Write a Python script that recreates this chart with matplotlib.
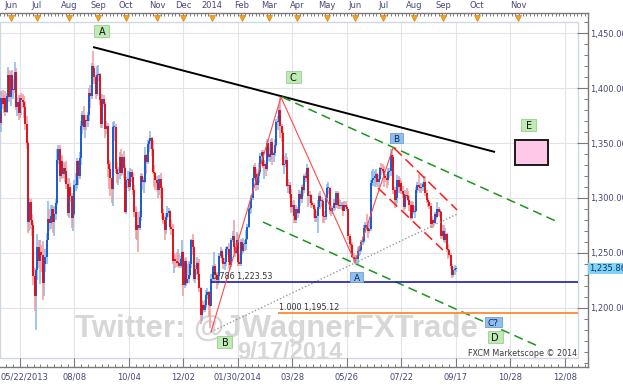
import numpy as np
import matplotlib
matplotlib.use("Agg")
import matplotlib.pyplot as plt
from matplotlib.patches import Rectangle
from matplotlib.transforms import blended_transform_factory

# ---------------- data (daily XAU/USD bars) ----------------
opens = [
 1377,1368,1391,
 1386,1391,1378,1393,1412, 1392,1412,1398,1398,1415, 1383,1387,1377,1391,1389,
 1387,1383,1367,1350,1278, 1296,1280,1275,1229,1211, 1234,1255,1243,1251,1248,
 1223,1240,1246,1262,1281, 1277,1284,1290,1278,1285, 1295,1335,1345,1320,1334,
 1322,1327,1325,1313,1286, 1310,1302,1282,1285,1312, 1312,1334,1320,1336,1366,
 1376,1365,1371,1370,1376, 1396,1393,1420,1418,1410, 1395,1412,1413,1389,1367,
 1390,1386,1363,1366,1331, 1326,1318,1308,1365,1365, 1326,1322,1323,1337,1323,
 1337,1327,1287,1316,1317, 1310,1324,1319,1307,1287, 1271,1275,1273,1283,1320,
 1315,1315,1339,1333,1349, 1352,1355,1345,1324,1323, 1316,1314,1307,1317,1309,
 1286,1280,1271,1283,1286, 1288,1274,1272,1243,1244, 1243,1241,1241,1238,1244,
 1251,1221,1243,1223,1226, 1230,1240,1262,1255,1226, 1235,1241,1231,1218,1193,
 1203,1198,1203,1212, 1214,1203,1202,1226,
 1237,1238,1230,1225,1229, 1247,1252,1245,1240,1242, 1254,1254,1242,1239,1262,
 1265,1255,1250,1262,1242, 1240,1260,1252,1258,1258, 1263,1274,1290,1291,1300,
 1318,1328,1322,1312,1320, 1324,1338,1342,1329,1331, 1326,1350,1337,1340,1351,
 1339,1341,1348,1369,1370, 1380,1366,1359,1330,1331, 1335,1311,1312,1304,1292,
 1294,1284,1280,1290,1286, 1304,1299,1310,1307,1320, 1318,1327,1302,1303,1295,
 1294,1290,1282,1284,1292, 1302,1297,1297,1284,1283, 1300,1309,1309,1289,1288,
 1291,1295,1294,1305,1294, 1293,1293,1294,1288,1294, 1292,1290,1265,1258,1257,
 1246,1244,1244,1244,1252, 1252,1253,1260,1261,1273, 1275,1273,1270,1272,1314,
 1316,1318,1320,1322,1315, 1317,1327,1326,1325,1320, 1318,1316,1324,1325,1339,
 1337,1307,1298,1300,1316, 1310,1314,1306,1304,1292, 1303,1302,1298,1294,1282,
 1294,1287,1288,1307,1312, 1310,1309,1310,1313,1315, 1305,1298,1296,1293,1276,
 1280,1277,1285,1283,1290, 1287,1287,1265,1270,1262, 1267,1254,1253,1248,1238,
 1230,1234,1235]
highs = [
 1396,1397,1398,
 1394,1397,1396,1419,1417, 1416,1417,1408,1424,1418, 1392,1394,1394,1396,1395,
 1393,1388,1375,1352,1300, 1299,1285,1278,1236,1235, 1267,1262,1262,1257,1261,
 1245,1254,1268,1297,1290, 1294,1294,1292,1293,1299, 1345,1348,1348,1337,1339,
 1333,1331,1334,1318,1318, 1314,1305,1290,1316,1323, 1336,1335,1342,1370,1379,
 1384,1374,1376,1378,1400, 1403,1423,1434,1420,1412, 1420,1421,1414,1395,1395,
 1394,1387,1370,1368,1335, 1333,1318,1369,1370,1367, 1333,1328,1342,1345,1340,
 1343,1330,1319,1325,1318, 1327,1326,1323,1312,1293, 1282,1287,1288,1323,1322,
 1319,1346,1340,1353,1354, 1361,1356,1353,1330,1324, 1320,1316,1321,1323,1311,
 1290,1284,1286,1293,1291, 1289,1280,1276,1250,1249, 1251,1254,1250,1247,1262,
 1252,1245,1246,1240,1243, 1242,1263,1267,1256,1239, 1246,1243,1244,1219,1207,
 1206,1207,1216,1218, 1215,1208,1231,1239,
 1251,1240,1233,1232,1250, 1255,1254,1248,1245,1255, 1256,1259,1245,1264,1270,
 1280,1259,1269,1267,1249, 1263,1262,1264,1262,1271, 1276,1294,1295,1303,1318,
 1330,1332,1326,1323,1332, 1341,1344,1344,1335,1333, 1354,1353,1346,1354,1355,
 1342,1354,1372,1375,1385, 1392,1367,1361,1338,1341, 1337,1317,1315,1308,1297,
 1298,1289,1294,1292,1307, 1306,1312,1313,1322,1324, 1331,1328,1306,1304,1297,
 1295,1292,1288,1298,1305, 1306,1301,1299,1288,1303, 1313,1315,1310,1294,1293,
 1299,1298,1306,1306,1299, 1298,1296,1296,1297,1297, 1294,1290,1267,1263,1260,
 1250,1248,1248,1255,1256, 1257,1262,1265,1275,1278, 1285,1276,1279,1316,1325,
 1326,1325,1326,1323,1321, 1328,1332,1331,1329,1322, 1322,1327,1327,1345,1342,
 1339,1310,1302,1321,1320, 1318,1316,1311,1305,1307, 1309,1306,1303,1297,1297,
 1296,1293,1310,1315,1322, 1313,1314,1315,1320,1320, 1307,1300,1297,1295,1284,
 1281,1287,1287,1296,1292, 1290,1288,1275,1275,1273, 1268,1258,1254,1250,1240,
 1237,1239,1238]
lows = [
 1365,1360,1381,
 1377,1375,1377,1390,1387, 1384,1394,1390,1396,1380, 1375,1371,1373,1376,1382,
 1373,1362,1345,1268,1270, 1272,1265,1221,1197,1180, 1225,1236,1222,1233,1207,
 1211,1233,1240,1262,1270, 1272,1276,1268,1265,1280, 1294,1331,1315,1318,1317,
 1318,1315,1308,1284,1282, 1296,1273,1270,1284,1306, 1308,1312,1317,1330,1358,
 1362,1355,1362,1365,1370, 1382,1390,1407,1404,1390, 1393,1407,1385,1364,1364,
 1383,1355,1358,1319,1308, 1302,1295,1293,1352,1323, 1314,1312,1317,1320,1321,
 1318,1286,1285,1309,1306, 1307,1315,1303,1283,1263, 1262,1251,1271,1279,1307,
 1305,1314,1322,1331,1342, 1345,1338,1322,1310,1307, 1306,1300,1303,1300,1281,
 1276,1262,1267,1280,1283, 1271,1266,1240,1232,1236, 1237,1240,1236,1236,1240,
 1211,1218,1220,1222,1223, 1228,1236,1248,1224,1223, 1230,1225,1214,1185,1188,
 1195,1196,1200,1208, 1192,1182,1202,1223,
 1234,1224,1217,1221,1224, 1245,1241,1235,1234,1238, 1248,1236,1234,1237,1260,
 1250,1246,1249,1238,1238, 1238,1248,1250,1252,1253, 1262,1273,1285,1286,1298,
 1316,1317,1306,1307,1314, 1322,1331,1327,1317,1320, 1325,1334,1333,1335,1330,
 1333,1338,1346,1362,1368, 1355,1351,1329,1322,1328, 1310,1305,1300,1286,1287,
 1277,1277,1277,1282,1285, 1293,1295,1302,1305,1315, 1316,1292,1295,1291,1292,
 1282,1278,1278,1268,1290, 1290,1292,1277,1277,1280, 1297,1304,1285,1284,1285,
 1288,1289,1291,1290,1290, 1290,1289,1284,1288,1289, 1288,1262,1255,1250,1245,
 1241,1240,1241,1240,1247, 1248,1251,1257,1259,1268, 1271,1264,1268,1270,1311,
 1311,1310,1312,1310,1310, 1316,1321,1323,1310,1315, 1309,1312,1318,1320,1333,
 1304,1291,1292,1295,1305, 1305,1304,1300,1288,1290, 1300,1297,1288,1280,1281,
 1285,1282,1287,1305,1306, 1305,1305,1306,1311,1302, 1295,1292,1290,1273,1273,
 1273,1276,1280,1282,1284, 1283,1263,1263,1260,1259, 1251,1244,1246,1235,1227,
 1228,1230,1233]
closes = [
 1368,1391,1386,
 1391,1378,1393,1412,1392, 1412,1398,1398,1415,1383, 1387,1377,1391,1389,1387,
 1383,1367,1350,1278,1296, 1280,1275,1229,1211,1234, 1255,1243,1251,1248,1223,
 1240,1246,1262,1281,1277, 1284,1290,1278,1285,1295, 1335,1345,1320,1334,1322,
 1327,1325,1313,1286,1310, 1302,1282,1285,1312,1312, 1334,1320,1336,1366,1376,
 1365,1371,1370,1376,1396, 1393,1420,1418,1410,1395, 1412,1413,1389,1367,1390,
 1386,1363,1366,1331,1326, 1318,1308,1365,1365,1326, 1322,1323,1337,1323,1337,
 1327,1287,1316,1317,1310, 1324,1319,1307,1287,1271, 1275,1273,1283,1320,1315,
 1315,1339,1333,1349,1352, 1355,1345,1324,1323,1316, 1314,1307,1317,1309,1286,
 1280,1271,1283,1286,1288, 1274,1272,1243,1244,1243, 1241,1241,1238,1244,1251,
 1221,1243,1223,1226,1230, 1240,1262,1255,1226,1235, 1241,1231,1218,1193,1203,
 1198,1203,1212,1214, 1203,1202,1226,1237,
 1238,1230,1225,1229,1247, 1252,1245,1240,1242,1254, 1254,1242,1239,1262,1265,
 1255,1250,1262,1242,1240, 1260,1252,1258,1258,1263, 1274,1290,1291,1300,1318,
 1328,1322,1312,1320,1324, 1338,1342,1329,1331,1326, 1350,1337,1340,1351,1339,
 1341,1348,1369,1370,1380, 1366,1359,1330,1331,1335, 1311,1312,1304,1292,1294,
 1284,1280,1290,1286,1304, 1299,1310,1307,1320,1318, 1327,1302,1303,1295,1294,
 1290,1282,1284,1292,1302, 1297,1297,1284,1283,1300, 1309,1309,1289,1288,1291,
 1295,1294,1305,1294,1293, 1293,1294,1288,1294,1292, 1290,1265,1258,1257,1246,
 1244,1244,1244,1252,1252, 1253,1260,1261,1273,1275, 1273,1270,1272,1314,1316,
 1318,1320,1322,1315,1317, 1327,1326,1325,1320,1318, 1316,1324,1325,1339,1337,
 1307,1298,1300,1316,1310, 1314,1306,1304,1292,1303, 1302,1298,1294,1282,1294,
 1287,1288,1307,1312,1310, 1309,1310,1313,1315,1305, 1298,1296,1293,1276,1280,
 1277,1285,1283,1290,1287, 1287,1265,1270,1262,1267, 1254,1253,1248,1238,1230,
 1234,1235,1235.86]
last_price = 1235.86

grid_idx = [15, 56, 97, 138, 179, 220, 261, 302, 343, 384, 425]
grid_labels = ['05/22/2013', '08/08', '10/04', '12/02', '01/30/2014', '03/28',
               '05/26', '07/22', '09/17', '10/28', '12/08']
month_idx = [8.3, 27.8, 51.9, 73.7, 94.8, 118.1, 137.7, 159.5, 182.1, 202.4,
             223.5, 246.0, 267.1, 288.2, 311.5, 333.3, 358.9, 389.8]
month_labels = ['Jun', 'Jul', 'Aug', 'Sep', 'Oct', 'Nov', 'Dec', '2014', 'Feb',
                'Mar', 'Apr', 'May', 'Jun', 'Jul', 'Aug', 'Sep', 'Oct', 'Nov']
price_ticks = [1200, 1250, 1300, 1350, 1400, 1450]

# drawing-tool anchors (bar index, price)
black_x, black_y = [70.0, 372.5], [1437.5, 1341.9]
green_up_x, green_up_y = [212.2, 419.9], [1392.0, 1278.1]
green_lo_x, green_lo_y = [197.9, 406.3], [1278.1, 1164.3]
dotted_x, dotted_y = [158.8, 343.9], [1178.1, 1285.4]
wave_x = [158.8, 211.4, 267.1, 295.7]
wave_y = [1178.1, 1392.0, 1241.7, 1345.5]
red_up_x, red_up_y = [296.5, 343.9], [1345.5, 1289.1]
red_lo_x, red_lo_y = [284.4, 333.3], [1309.1, 1252.6]
fib_levels = [1223.53, 1195.12]
fib_labels = ['0.786 1,223.53', '1.000 1,195.12']
fib_start = [158.8, 209.2]
box_text = ['A', 'C', 'B', 'A', 'B', 'E', 'C?', 'D']
box_x = [76.7, 220.5, 298.0, 268.6, 169.3, 398.0, 371.0, 372.5]
box_y = [1452.1, 1410.2, 1354.6, 1228.0, 1168.8, 1366.5, 1187.0, 1173.4]
box_kind = ['g', 'g', 'b', 'b', 'g', 'g', 'b', 'g']
target_x, target_y = [387.5, 412.3], [1330.1, 1352.8]

# ---------------- layout ----------------
W, H, DPI = 623, 386, 100
PX_BAR, PX_USD, PY1450 = 1.329, 1.098, 33.3
def px2x(px): return px / PX_BAR
def py2y(py): return 1450 - (py - PY1450) / PX_USD

AX_R, AX_T, AX_B = 588, 13, 367
XLIM = (0, px2x(AX_R))
YLIM = (py2y(AX_B), py2y(AX_T))
fig = plt.figure(figsize=(W / DPI, H / DPI), dpi=DPI)
fig.patch.set_facecolor('white')
ax = fig.add_axes([0, 1 - AX_B / H, AX_R / W, (AX_B - AX_T) / H])
ax.set_facecolor('white')

TXT = '#474779'
AXC = '#7a7a7a'
FS = 6

inner_r = px2x(578)
inner_t, inner_b = py2y(22), py2y(358)

# grid
ax.vlines(grid_idx, inner_b, inner_t, color='#e3e3e3', lw=0.8, zorder=0.5)
ax.hlines(price_ticks, 0, inner_r, color='#e3e3e3', lw=0.8, zorder=0.5)
ax.add_patch(Rectangle((0, inner_b), inner_r, inner_t - inner_b, fill=False,
                       ec='#cfd7e2', lw=1.0, zorder=0.6))

# watermark
ax.text(75 / W, 1 - 337 / H, 'Twitter: @JWagnerFXTrade', transform=fig.transFigure,
        fontsize=22.4, fontweight='bold', family='Liberation Sans', color='#d7d7d7',
        ha='left', va='baseline', zorder=1)
ax.text(237 / W, 1 - 359 / H, '9/17/2014', transform=fig.transFigure,
        fontsize=17, fontweight='bold', family='Liberation Sans', color='#d7d7d7',
        ha='left', va='baseline', zorder=1)

# candles
o = np.array(opens, float); h = np.array(highs, float)
l = np.array(lows, float); c = np.array(closes, float)
idx = np.arange(len(c))
up = c >= o
dn = ~up
bot = np.minimum(o, c); top = np.maximum(o, c)
top = np.where(top - bot < 1.0, bot + 1.0, top)
ax.vlines(idx[up], l[up], h[up], color='#84b6ee', lw=1.1, zorder=2)
ax.vlines(idx[dn], l[dn], h[dn], color='#f39a9a', lw=1.1, zorder=2)
ax.vlines(idx[up], bot[up], top[up], color='#1658d0', lw=1.35, zorder=2.2)
ax.vlines(idx[dn], bot[dn], top[dn], color='#e20c16', lw=1.35, zorder=2.2)

# drawing tools
ax.plot(black_x, black_y, color='black', lw=1.4, zorder=3, solid_capstyle='butt')
for xs, ys in [(green_up_x, green_up_y), (green_lo_x, green_lo_y)]:
    ax.plot(xs, ys, color='#1a961a', lw=1.1, dashes=(6, 3.5), zorder=3)
ax.plot(dotted_x, dotted_y, color='#9a9a9a', lw=1.0, dashes=(1, 1.5), zorder=3)
ax.plot(wave_x, wave_y, color='#ff4a4a', lw=0.8, zorder=3.1)
for xs, ys in [(red_up_x, red_up_y), (red_lo_x, red_lo_y)]:
    ax.plot(xs, ys, color='#ff1a1a', lw=1.1, dashes=(7, 3.5), zorder=3.1)
ax.hlines(fib_levels[0], fib_start[0], inner_r, color='#1c1caa', lw=1.2, zorder=3)
ax.hlines(fib_levels[1], fib_start[1], inner_r, color='#ff8a30', lw=1.3, zorder=3)
for lv, lab, xs in zip(fib_levels, fib_labels, fib_start):
    ax.text(xs + px2x(1), lv + 1.3, lab, fontsize=5.8, color='#333333',
            ha='left', va='bottom', zorder=4)

ax.add_patch(Rectangle((target_x[0], target_y[0]), target_x[1] - target_x[0],
                       target_y[1] - target_y[0], fc='#ffc8e8', ec='#1a1a1a',
                       lw=1.4, zorder=4))

for t, x, y, k in zip(box_text, box_x, box_y, box_kind):
    if k == 'g':
        fc, ec, tc, wpx, hpx = '#bfeab6', '#98cf8f', '#111111', 15, 12
    else:
        fc, ec, tc, wpx, hpx = '#8fbfee', '#6f9fd6', '#16244e', 13, 10
    if len(t) > 1:
        wpx = 17
    w, hh = wpx / PX_BAR, hpx / PX_USD
    ax.add_patch(Rectangle((x - w / 2, y - hh / 2), w, hh, fc=fc, ec=ec, lw=0.6, zorder=5))
    ax.text(x, y, t, ha='center', va='center_baseline', fontsize=7 if k == 'g' else 6.5,
            color=tc, zorder=6)

ax.text(px2x(577), py2y(358), 'FXCM Marketscope \u00a9 2014', fontsize=5.8,
        color='#3c3c3c', ha='right', va='bottom', zorder=6)

# axes / ticks
for s in ['left', 'top']:
    ax.spines[s].set_visible(False)
for s in ['right', 'bottom']:
    ax.spines[s].set_color(AXC)
    ax.spines[s].set_linewidth(1.0)

ax.yaxis.set_ticks_position('right')
ax.set_yticks(price_ticks, labels=[f'{p:,.2f}' for p in price_ticks])
ymin_t = [v for v in np.arange(1150, 1470, 10) if YLIM[0] <= v <= YLIM[1]]
ax.set_yticks(ymin_t, minor=True)
ax.tick_params(axis='y', which='major', direction='in', length=8, width=0.8,
               color=AXC, pad=1.2, labelsize=FS, labelcolor=TXT)
ax.tick_params(axis='y', which='minor', direction='in', length=3, width=0.7, color=AXC)

# first date label sits flush with the left edge, as in the original
ax.set_xticks(grid_idx, labels=[''] + grid_labels[1:])
xmin_t = [v for v in np.arange(15 - 41, 445, 41 / 8) if XLIM[0] <= v <= XLIM[1]]
ax.set_xticks(xmin_t, minor=True)
ax.tick_params(axis='x', which='major', direction='in', length=6.5, width=0.8,
               color=AXC, pad=4, labelsize=FS, labelcolor=TXT)
ax.tick_params(axis='x', which='minor', direction='in', length=2.5, width=0.7, color=AXC)
fig.text(0.5 / W, 1 - 372.6 / H, grid_labels[0], fontsize=FS, color=TXT,
         ha='left', va='top')

sec = ax.secondary_xaxis('top')
sec.set_xticks(month_idx, labels=month_labels)
top_t = [v for v in np.arange(0, 445, 2.75) if XLIM[0] <= v <= XLIM[1]]
sec.set_xticks(top_t, minor=True)
sec.tick_params(which='major', length=0, pad=1.8, labelsize=FS, labelcolor=TXT)
sec.tick_params(which='minor', direction='in', length=2.5, width=0.7, color=AXC)
sec.spines['top'].set_color(AXC)
sec.spines['top'].set_linewidth(1.0)

ax.set_xlim(*XLIM)
ax.set_ylim(*YLIM)

tr = blended_transform_factory(ax.transData, ax.transAxes)
ax.plot(month_idx, [(AX_B - 17.5) / (AX_B - AX_T)] * len(month_idx), ls='none',
        marker='v', ms=5, mfc='#f7a21b', mec='#d9861a', mew=0.5,
        transform=tr, clip_on=False, zorder=7)
ax.set_xlim(*XLIM)
ax.set_ylim(*YLIM)

# current price tag
fig.patches.append(Rectangle((588 / W, 1 - 273.5 / H), 36 / W, 11 / H,
                             transform=fig.transFigure, fc='#7fd3f7', ec='none'))
fig.text(589.5 / W, 1 - 268 / H, f'{last_price:,.2f}', fontsize=FS, color='#10306a',
         ha='left', va='center')

fig.savefig('out.png', dpi=DPI)
